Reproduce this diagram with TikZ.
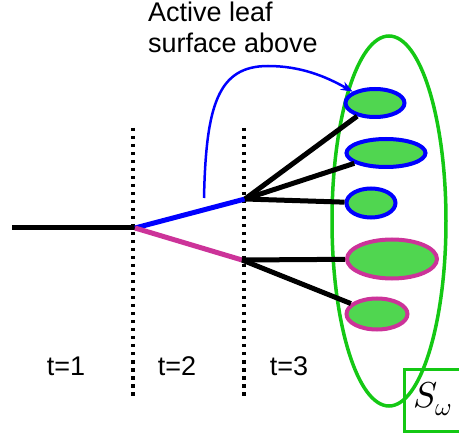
\documentclass[tikz,border=0pt]{standalone}
\usepackage{fontspec}
\setmainfont{Liberation Sans}
\usepackage{unicode-math}
\setmathfont{Latin Modern Math}
\usetikzlibrary{arrows.meta,shapes.geometric}
\definecolor{leafgreen}{RGB}{80,214,80}
\definecolor{ringgreen}{RGB}{20,200,20}
\definecolor{mag}{RGB}{204,51,153}
\tikzset{
  x=1pt,y=-1pt,
  branch/.style={line width=5pt},
  leafb/.style={draw=blue,fill=leafgreen,line width=4pt,ellipse,inner sep=0pt},
  leafm/.style={draw=mag,fill=leafgreen,line width=4pt,ellipse,inner sep=0pt},
  tline/.style={line width=3.5pt,dash pattern=on 3.5pt off 4.5pt},
  lab/.style={font=\fontsize{27}{31}\selectfont,inner sep=0pt}
}
\begin{document}
\begin{tikzpicture}
\useasboundingbox (0,0) rectangle (459,436);
% time separators
\draw[tline] (133,128) -- (133,396);
\draw[tline] (244,128) -- (244,396);
% coordinates
\coordinate (root) at (12,228);
\coordinate (split) at (135,228);
\coordinate (bb) at (245,199);
\coordinate (mb) at (242,260);
% big ellipse
\node[draw=ringgreen,line width=3.5pt,ellipse,minimum width=114pt,minimum height=370pt] (ring) at (389,221) {};
% leaves
\node[leafb,minimum width=59pt,minimum height=28pt] (l1) at (375,103) {};
\node[leafb,minimum width=79pt,minimum height=28pt] (l2) at (386,153) {};
\node[leafb,minimum width=49pt,minimum height=29pt] (l3) at (371,203) {};
\node[leafm,minimum width=90pt,minimum height=39pt] (l4) at (392,259) {};
\node[leafm,minimum width=61pt,minimum height=31pt] (l5) at (377,314) {};
% branches
\draw[branch] (root) -- (split);
\draw[branch,blue] (split) -- (bb);
\draw[branch,mag] (split) -- (mb);
\draw[branch] (bb) -- (l1);
\draw[branch] (bb) -- (l2);
\draw[branch] (bb) -- (l3);
\draw[branch] (mb) -- (l4);
\draw[branch] (mb) -- (l5);
% arrow
\coordinate (as) at (204,198);
\coordinate (ap) at (268,66);
\draw[blue,line width=2.5pt,-{Stealth[length=12pt,width=9pt]}] (as) .. controls (206,105) and (218,66) .. (ap) .. controls (300,66) and (325,76) .. (l1.north west);
% text
\node[lab,anchor=base west] (txt1) at (148,22) {Active leaf};
\node[lab,anchor=base west] (txt2) at (148,53) {surface above};
\node[lab,anchor=base] (t1) at (66,375) {t=1};
\node[lab,anchor=base] (t2) at (177,375) {t=2};
\node[lab,anchor=base] (t3) at (289,375) {t=3};
% S omega box
\draw[ringgreen,line width=3pt] (404,370) rectangle (462,431);
\node[inner sep=0pt] (sw) at (433,399) {\fontsize{36}{40}\selectfont$S_{\omega}$};
\end{tikzpicture}
\end{document}
